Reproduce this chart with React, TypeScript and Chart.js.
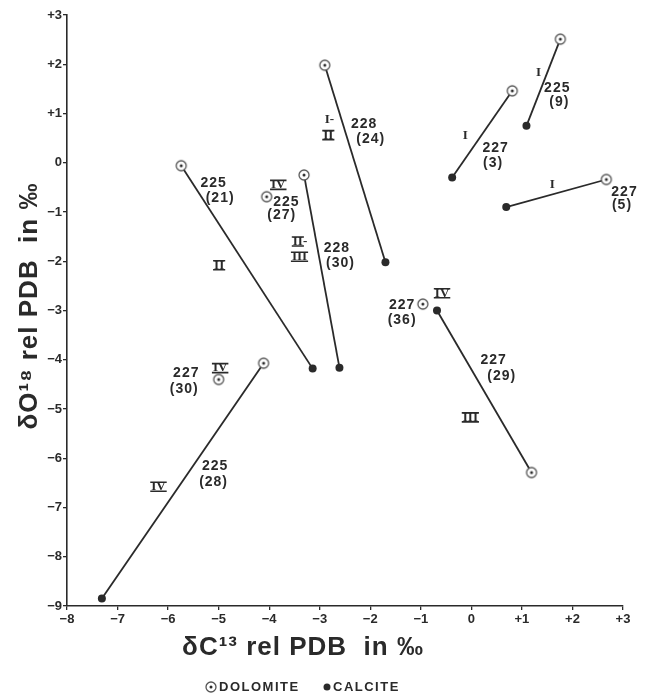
import React, { useEffect, useRef } from "react";
import { Chart, registerables } from "chart.js";

Chart.register(...registerables);

// ---- data (δ13C on x, δ18O on y) ----
const pairIds = ["225 (9)", "227 (3)", "227 (5)", "228 (24)", "225 (21)", "228 (30)", "227 (29)", "225 (28)"];
const dolomiteX = [1.76, 0.81, 2.67, -2.9, -5.74, -3.31, 1.19, -4.11];
const dolomiteY = [2.51, 1.46, -0.34, 1.98, -0.06, -0.25, -6.29, -4.07];
const calciteX = [1.09, -0.38, 0.69, -1.7, -3.14, -2.61, -0.68, -7.31];
const calciteY = [0.75, -0.3, -0.9, -2.02, -4.18, -4.16, -3.0, -8.85];

const loneIds = ["225 (27)", "227 (36)", "227 (30)"];
const loneDolomiteX = [-4.05, -0.96, -5.0];
const loneDolomiteY = [-0.69, -2.87, -4.4];

const xTickLabels = ["−8", "−7", "−6", "−5", "−4", "−3", "−2", "−1", "0", "+1", "+2", "+3"];
const yTickLabels = ["−9", "−8", "−7", "−6", "−5", "−4", "−3", "−2", "−1", "0", "+1", "+2", "+3"];

// sample annotations (site / sample number)
const noteText = ["225", "(9)", "227", "(3)", "227", "(5)", "228", "(24)", "225", "(21)", "225", "(27)", "228", "(30)", "227", "(36)", "227", "(29)", "227", "(30)", "225", "(28)"];
const noteX = [1.7, 1.74, 0.48, 0.43, 3.03, 2.98, -2.12, -1.99, -5.1, -4.97, -3.66, -3.75, -2.66, -2.59, -1.37, -1.37, 0.44, 0.6, -5.64, -5.68, -5.07, -5.1];
const noteY = [1.52, 1.24, 0.29, -0.01, -0.59, -0.86, 0.79, 0.48, -0.42, -0.72, -0.79, -1.07, -1.74, -2.04, -2.89, -3.19, -4.0, -4.33, -4.28, -4.6, -6.17, -6.48];

// zone annotations (roman numerals)
const zoneText = ["I", "I", "I", "I-", "II", "II", "IV", "II-", "III", "IV", "III", "IV", "IV"];
const zoneX = [1.33, -0.12, 1.6, -2.81, -2.83, -4.99, -3.82, -3.39, -3.4, -0.58, -0.02, -4.97, -6.19];
const zoneY = [1.83, 0.56, -0.45, 0.87, 0.56, -2.08, -0.45, -1.6, -1.91, -2.65, -5.17, -4.17, -6.58];

const xTitle = "δC¹³ rel PDB  in ‰";
const yTitle = "δO¹⁸ rel PDB  in ‰";
const legendDolomite = "DOLOMITE";
const legendCalcite = "CALCITE";

const INK = "#2a2a2a";

function makeDolomiteMarker(): HTMLCanvasElement {
  const c = document.createElement("canvas");
  c.width = 14;
  c.height = 14;
  const g = c.getContext("2d")!;
  g.fillStyle = "#ffffff";
  g.beginPath();
  g.arc(7, 7, 5, 0, Math.PI * 2);
  g.fill();
  g.strokeStyle = "#555";
  g.lineWidth = 1.3;
  g.stroke();
  g.fillStyle = INK;
  g.beginPath();
  g.arc(7, 7, 1.5, 0, Math.PI * 2);
  g.fill();
  return c;
}

let dolMarker: HTMLCanvasElement;

const overlayPlugin = {
  id: "overlay",
  afterDatasetsDraw(chart: any) {
    const { ctx } = chart;
    const xs = chart.scales.x;
    const ys = chart.scales.y;
    ctx.save();
    ctx.fillStyle = INK;
    ctx.strokeStyle = INK;
    ctx.textAlign = "center";
    ctx.textBaseline = "middle";

    // sample numbers
    ctx.font = "bold 14px 'Liberation Sans', Arial, sans-serif";
    (ctx as any).letterSpacing = "1px";
    noteText.forEach((t, i) => {
      ctx.fillText(t, xs.getPixelForValue(noteX[i]), ys.getPixelForValue(noteY[i]));
    });
    (ctx as any).letterSpacing = "0px";

    // roman numerals
    ctx.font = "bold 13px 'Liberation Serif', 'DejaVu Serif', serif";
    zoneText.forEach((t, i) => {
      const px = xs.getPixelForValue(zoneX[i]);
      const py = ys.getPixelForValue(zoneY[i]);
      ctx.fillText(t, px, py);
      const core = t.replace("-", "");
      if (core.length > 1) {
        const full = ctx.measureText(t).width;
        const w = ctx.measureText(core).width;
        const left = px - full / 2 - 1;
        ctx.lineWidth = 1.6;
        ctx.beginPath();
        ctx.moveTo(left, py - 4.5);
        ctx.lineTo(left + w + 2, py - 4.5);
        ctx.moveTo(left, py + 4.5);
        ctx.lineTo(left + w + 2, py + 4.5);
        ctx.stroke();
      }
    });

    // axis titles
    ctx.font = "bold 26px 'Liberation Sans', Arial, sans-serif";
    (ctx as any).letterSpacing = "1px";
    ctx.fillText(xTitle, 303, 648);
    ctx.save();
    ctx.translate(30, 306);
    ctx.rotate(-Math.PI / 2);
    ctx.fillText(yTitle, 0, 0);
    ctx.restore();

    // legend
    ctx.font = "bold 13px 'Liberation Sans', Arial, sans-serif";
    (ctx as any).letterSpacing = "1.5px";
    ctx.textAlign = "left";
    const ly = 687;
    ctx.drawImage(dolMarker, 211 - 7, ly - 7);
    ctx.fillText(legendDolomite, 219, ly);
    ctx.beginPath();
    ctx.arc(327, ly, 3.5, 0, Math.PI * 2);
    ctx.fill();
    ctx.fillText(legendCalcite, 333, ly);
    ctx.restore();
  },
};

export default function App() {
  const ref = useRef<HTMLCanvasElement>(null);
  useEffect(() => {
    dolMarker = makeDolomiteMarker();
    const lineSets = pairIds.map((id, i) => ({
      label: id,
      data: [
        { x: dolomiteX[i], y: dolomiteY[i] },
        { x: calciteX[i], y: calciteY[i] },
      ],
      showLine: true,
      borderColor: INK,
      borderWidth: 1.8,
      pointRadius: 0,
      order: 3,
    }));
    const dolomitePts = [
      ...dolomiteX.map((x, i) => ({ x, y: dolomiteY[i] })),
      ...loneDolomiteX.map((x, i) => ({ x, y: loneDolomiteY[i] })),
    ];
    const calcitePts = calciteX.map((x, i) => ({ x, y: calciteY[i] }));
    const chart = new Chart(ref.current!, {
      type: "scatter",
      data: {
        datasets: [
          ...lineSets,
          {
            label: "CALCITE",
            data: calcitePts,
            pointStyle: "circle",
            pointRadius: 4,
            backgroundColor: INK,
            borderColor: INK,
            borderWidth: 0,
            order: 1,
          },
          {
            label: "DOLOMITE",
            data: dolomitePts,
            pointStyle: dolMarker,
            order: 0,
          },
        ] as any,
      },
      options: {
        responsive: false,
        animation: false,
        events: [],
        layout: { padding: { top: 15, right: 26, left: 0, bottom: 0 } },
        plugins: {
          legend: { display: false },
          tooltip: { enabled: false },
        },
        scales: {
          x: {
            type: "linear",
            min: -8,
            max: 3,
            afterFit: (s: any) => {
              s.height = 89;
            },
            afterBuildTicks: (s: any) => {
              s.ticks = xTickLabels.map((_, i) => ({ value: i - 8 }));
            },
            border: { display: true, color: INK, width: 1.6 },
            grid: { display: true, drawOnChartArea: false, drawTicks: true, tickLength: 4, color: INK, lineWidth: 1.3 },
            ticks: {
              autoSkip: false,
              maxRotation: 0,
              padding: 2,
              color: INK,
              font: { family: "'Liberation Sans', Arial, sans-serif", size: 13, weight: "bold" },
              callback: (v: any) => xTickLabels[Math.round(Number(v)) + 8],
            },
          },
          y: {
            type: "linear",
            min: -9,
            max: 3,
            afterFit: (s: any) => {
              s.width = 67;
            },
            afterBuildTicks: (s: any) => {
              s.ticks = yTickLabels.map((_, i) => ({ value: i - 9 }));
            },
            border: { display: true, color: INK, width: 1.6 },
            grid: { display: true, drawOnChartArea: false, drawTicks: true, tickLength: 4, color: INK, lineWidth: 1.3 },
            ticks: {
              autoSkip: false,
              padding: 1,
              color: INK,
              font: { family: "'Liberation Sans', Arial, sans-serif", size: 13, weight: "bold" },
              callback: (v: any) => yTickLabels[Math.round(Number(v)) + 9],
            },
          },
        },
      } as any,
      plugins: [overlayPlugin],
    });
    return () => chart.destroy();
  }, []);

  return (
    <div style={{ position: "fixed", left: 0, top: 0, width: 649, height: 695, background: "#fff" }}>
      <canvas ref={ref} width={649} height={695} style={{ display: "block" }} />
    </div>
  );
}
